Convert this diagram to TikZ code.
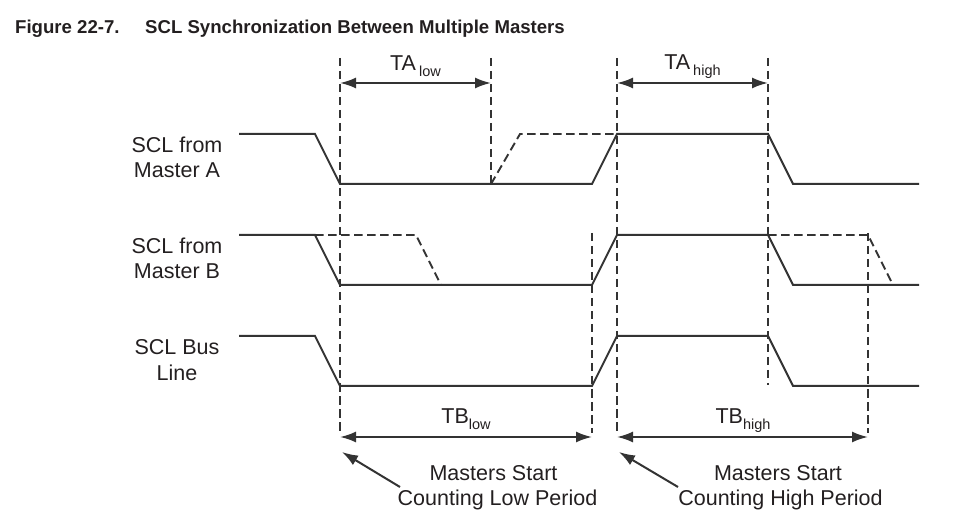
\documentclass[tikz,border=0pt]{standalone}
\usepackage{fontspec}
\setmainfont{Liberation Sans}
\usetikzlibrary{arrows.meta}
\definecolor{ink}{HTML}{231F20}
\definecolor{wire}{HTML}{333333}
\newcommand{\subtxt}[1]{\raisebox{-6pt}{\fontsize{14.5}{15}\selectfont #1}}
\begin{document}
\begin{tikzpicture}[x=1pt,y=-1pt,
  sig/.style={draw=wire,line width=2pt,line join=miter},
  sigdash/.style={draw=wire,line width=1.9pt,dash pattern=on 8.5pt off 4.5pt},
  guide/.style={draw=wire,line width=1.8pt,dash pattern=on 8.5pt off 4.5pt},
  dim/.style={draw=wire,line width=2pt,{Latex[length=16pt,width=11pt]}-{Latex[length=16pt,width=11pt]}},
  pointer/.style={draw=wire,line width=2pt,-{Latex[length=16pt,width=11pt]}},
  lbl/.style={text=ink,font=\fontsize{21.5}{25}\selectfont,inner sep=0pt,anchor=base},
  ttl/.style={text=ink,font=\fontsize{18.6}{20}\selectfont\bfseries,inner sep=0pt,anchor=base west}]
\useasboundingbox (0,0) rectangle (975,521);

% title
\node[ttl] (fig) at (15,34) {Figure 22-7.};
\node[ttl] (title) at (145,34) {SCL Synchronization Between Multiple Masters};

% signal labels
\node[lbl] (la1) at (177,153) {SCL from};
\node[lbl] (la2) at (177,178) {Master A};
\node[lbl] (lb1) at (177,254) {SCL from};
\node[lbl] (lb2) at (177,279) {Master B};
\node[lbl] (lc1) at (177,355) {SCL Bus};
\node[lbl] (lc2) at (177,381) {Line};

% guide lines
\draw[guide] (340,58) -- (340,433);
\draw[guide] (491,58) -- (491,184);
\draw[guide] (617,58) -- (617,433);
\draw[guide] (768,58) -- (768,385);
\draw[guide] (592,233) -- (592,433);
\draw[guide] (868,233) -- (868,433);

% Master A
\draw[sig] (239,134) -- (315,134) -- (340,184) -- (592,184) -- (617,134) -- (768,134) -- (793,184) -- (919,184);
\draw[sigdash] (491,184) -- (520,134) -- (617,134);
% Master B
\draw[sig] (239,235) -- (315,235) -- (340,285) -- (592,285) -- (617,235) -- (768,235) -- (793,285) -- (919,285);
\draw[sigdash] (315,235) -- (416,235) -- (441,285);
\draw[sigdash] (768,235) -- (868,235) -- (893,285);
% Bus
\draw[sig] (239,336) -- (315,336) -- (340,386) -- (592,386) -- (617,336) -- (768,336) -- (793,386) -- (919,386);

% dimension arrows
\coordinate (tal1) at (340,83); \coordinate (tal2) at (491,83);
\coordinate (tah1) at (617,83); \coordinate (tah2) at (768,83);
\coordinate (tbl1) at (340,437); \coordinate (tbl2) at (592,437);
\coordinate (tbh1) at (617,437); \coordinate (tbh2) at (868,437);
\draw[dim] (tal1) -- (tal2);
\draw[dim] (tah1) -- (tah2);
\draw[dim] (tbl1) -- (tbl2);
\draw[dim] (tbh1) -- (tbh2);

\node[lbl] (talow) at (415.5,71) {TA\hspace{3pt}\subtxt{low}};
\node[lbl] (tahigh) at (692.5,70) {TA\hspace{3pt}\subtxt{high}};
\node[lbl] (tblow) at (466,423) {TB\subtxt{low}};
\node[lbl] (tbhigh) at (743,423) {TB\subtxt{high}};

% pointers
\coordinate (p1tip) at (342,452); \coordinate (p1tail) at (400,487);
\coordinate (p2tip) at (619,452); \coordinate (p2tail) at (678,487);
\draw[pointer] (p1tail) -- (p1tip);
\draw[pointer] (p2tail) -- (p2tip);

\node[lbl] (m1a) at (493.5,480) {Masters Start};
\node[lbl] (m1b) at (497.5,505) {Counting Low Period};
\node[lbl] (m2a) at (778,480) {Masters Start};
\node[lbl] (m2b) at (780.5,505) {Counting High Period};
\end{tikzpicture}
\end{document}
